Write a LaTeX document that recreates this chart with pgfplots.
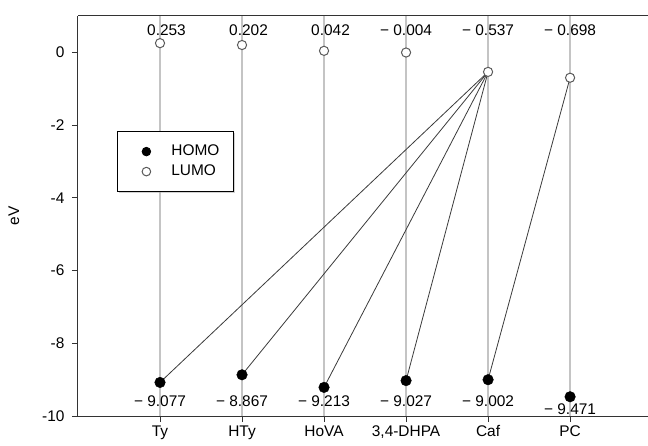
\documentclass[border=0pt]{standalone}
\usepackage{fontspec}
\setmainfont{Liberation Sans}
\usepackage{pgfplots}
\pgfplotsset{compat=1.18}
\usetikzlibrary{shadows}
\definecolor{gridgray}{HTML}{C4C4C4}
\definecolor{linegray}{HTML}{3A3A3A}
\definecolor{ringgray}{HTML}{5A5A5A}
\newcommand{\chartfont}{\fontsize{15.5}{18}\selectfont}
\begin{document}
\begin{tikzpicture}[font=\chartfont]
\useasboundingbox (-78bp,-30bp) rectangle (570bp,416bp);
\begin{axis}[
  at={(0,0)}, anchor=south west,
  scale only axis,
  width=570bp, height=400bp,
  xmin=0, xmax=6.95, ymin=-10, ymax=1,
  axis x line*=bottom, axis y line*=left,
  axis line style={draw=black!80, line width=1bp},
  tick align=outside,
  major tick length=6bp,
  tick style={draw=black!80, line width=1bp},
  xtick={1,2,3,4,5,6},
  xticklabels={Ty,HTy,HoVA,{3,4-DHPA},Caf,PC},
  ytick={-10,-8,-6,-4,-2,0},
  yticklabels={-10,-8,-6,-4,-2,0},
  tick label style={font=\chartfont},
  yticklabel style={xshift=-4bp},
  xmajorgrids,
  grid style={color=gridgray, line width=1.3bp},
  ylabel={eV},
  every axis y label/.style={at={(axis description cs:-0.1123,0.5)}, rotate=90, anchor=center, font=\chartfont},
  clip=false,
  legend style={at={(axis description cs:0.0684,0.712)}, anchor=north west,
    font=\chartfont,
    draw=black, line width=0.8bp, inner xsep=12bp, inner ysep=11bp,
    nodes={inner sep=2bp, text height=11bp, text depth=3bp}, row sep=2bp,
    drop shadow={shadow xshift=1.5bp, shadow yshift=-1.5bp, fill=gray!70}},
  legend cell align=left,
  legend image code/.code={\path[draw=none] (0bp,0bp) (40bp,0bp);
    \draw[#1, only marks, mark size=4.3bp] plot coordinates {(17bp,0bp)};},
]
% connecting lines
\addplot[linegray, line width=0.8bp, forget plot] coordinates {(5,-0.537) (1,-9.077)};
\addplot[linegray, line width=0.8bp, forget plot] coordinates {(5,-0.537) (2,-8.867)};
\addplot[linegray, line width=0.8bp, forget plot] coordinates {(5,-0.537) (3,-9.213)};
\addplot[linegray, line width=0.8bp, forget plot] coordinates {(5,-0.537) (4,-9.027)};
\addplot[linegray, line width=0.8bp, forget plot] coordinates {(6,-0.698) (5,-9.002)};
% HOMO
\addplot[only marks, mark=*, mark size=5.3bp, black] coordinates {
(1,-9.077) (2,-8.867) (3,-9.213) (4,-9.027) (5,-9.002) (6,-9.471)};
% LUMO
\addplot[only marks, mark=*, mark size=4.6bp, mark options={draw=ringgray, fill=white, line width=1bp}] coordinates {
(1,0.253) (2,0.202) (3,0.042) (4,-0.004) (5,-0.537) (6,-0.698)};
\legend{HOMO,LUMO}
\draw[draw=black!80, line width=1bp] (rel axis cs:0,1) -- (rel axis cs:1,1);
% value labels
\node[anchor=base, xshift=6.5bp] at (axis cs:1,0.45) {0.253};
\node[anchor=base, xshift=6.5bp] at (axis cs:2,0.45) {0.202};
\node[anchor=base, xshift=6.5bp] at (axis cs:3,0.45) {0.042};
\node[anchor=base] at (axis cs:4,0.45) {− 0.004};
\node[anchor=base] at (axis cs:5,0.45) {− 0.537};
\node[anchor=base] at (axis cs:6,0.45) {− 0.698};
\node[anchor=base] at (axis cs:1,-9.725) {− 9.077};
\node[anchor=base] at (axis cs:2,-9.725) {− 8.867};
\node[anchor=base] at (axis cs:3,-9.725) {− 9.213};
\node[anchor=base] at (axis cs:4,-9.725) {− 9.027};
\node[anchor=base] at (axis cs:5,-9.725) {− 9.002};
\node[anchor=base] at (axis cs:6,-9.97) {− 9.471};
\end{axis}
\end{tikzpicture}
\end{document}
